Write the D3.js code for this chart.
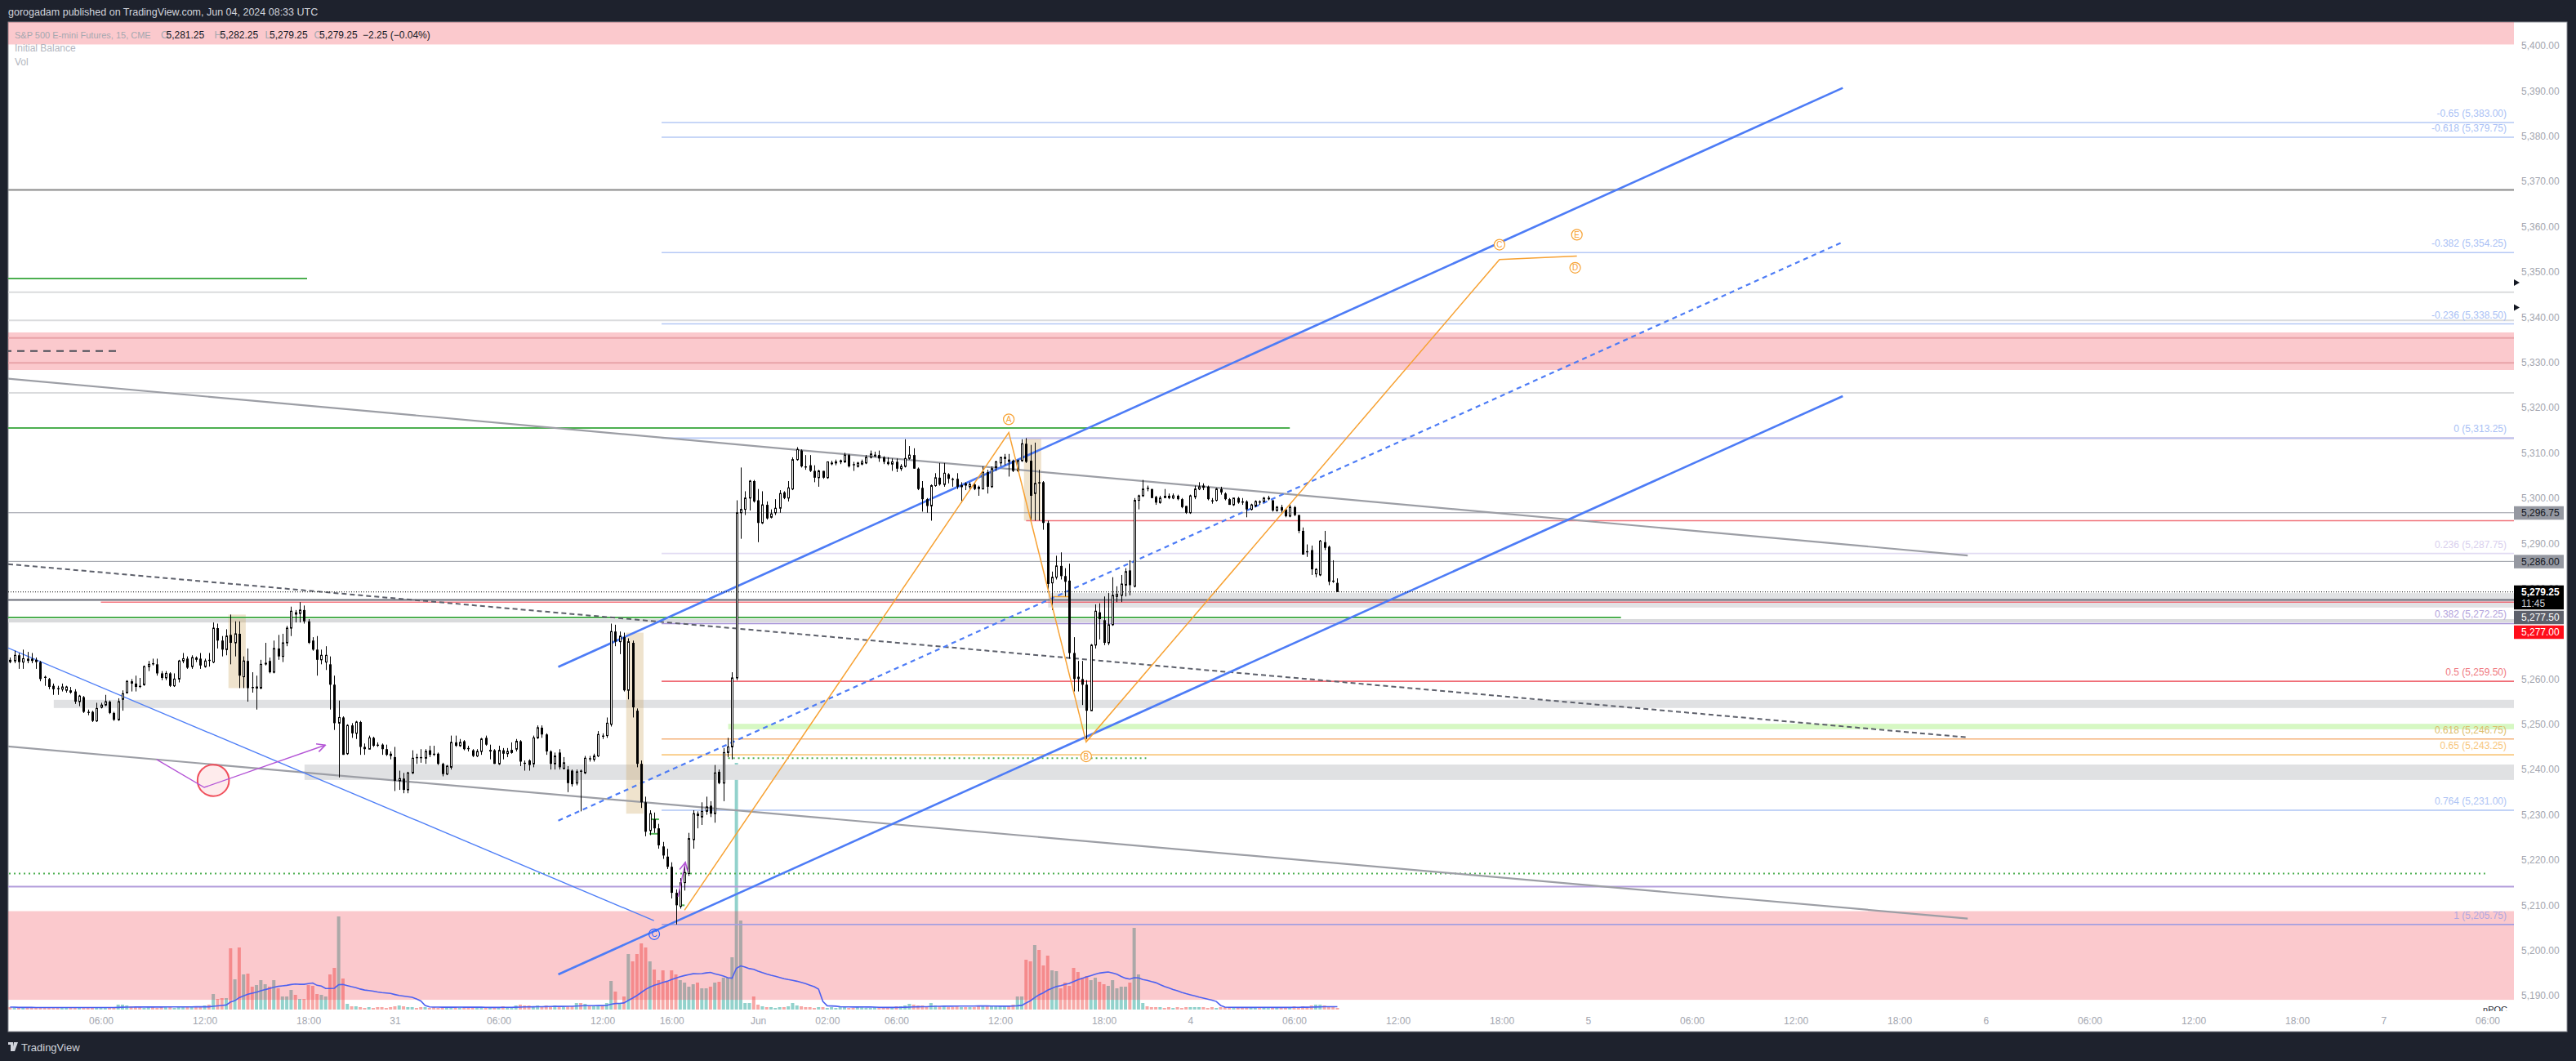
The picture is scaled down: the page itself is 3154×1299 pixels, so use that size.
<!DOCTYPE html>
<html><head><meta charset="utf-8"><title>ES 15m</title>
<script src="https://cdn.jsdelivr.net/npm/d3@7/dist/d3.min.js"></script>
<style>
html,body{margin:0;padding:0;background:#1e222d;}
svg{display:block;font-family:"Liberation Sans",Arial,sans-serif;}
</style></head><body>
<svg id="chart" width="3154" height="1299"></svg>
<script>
// ---------------- DATA ----------------
// bar index 0 = 30 May 06:00 UTC, 15-minute bars (session bars only)
const barStart = -21;
const opens = [
5264.25,5264.0,5265.25,5263.75,5264.5,5264.5,5264.25,5263.75,5260.5,5260.0,
5258.5,5258.0,5257.75,5257.5,5257.5,5257.25,5255.0,5256.0,5252.75,5252.75,
5250.75,5253.75,5254.25,5255.0,5252.5,5251.0,5255.5,5257.0,5259.5,5259.0,
5258.5,5258.75,5262.75,5263.5,5263.25,5261.25,5260.25,5261.25,5258.5,5260.0,
5264.0,5264.5,5262.75,5264.75,5264.5,5262.75,5264.25,5263.75,5271.25,5268.5,
5266.5,5269.75,5268.0,5270.0,5260.5,5264.0,5258.25,5258.0,5258.0,5263.5,
5264.0,5261.5,5266.75,5265.0,5268.0,5271.25,5274.75,5274.5,5275.25,5272.75,
5268.5,5266.5,5264.25,5263.75,5263.25,5258.75,5250.25,5251.5,5243.5,5249.75,
5248.0,5250.5,5245.0,5244.5,5247.0,5245.5,5245.5,5244.5,5243.5,5242.75,
5237.5,5238.0,5235.5,5239.25,5242.75,5242.75,5242.5,5244.25,5243.5,5243.5,
5241.25,5239.0,5240.5,5246.0,5245.25,5246.25,5244.75,5244.25,5243.0,5244.0,
5247.0,5244.25,5244.25,5241.25,5244.25,5243.5,5243.75,5244.5,5246.25,5241.5,
5242.0,5241.25,5247.0,5249.25,5247.75,5244.0,5241.25,5243.75,5240.25,5240.0,
5239.75,5237.0,5239.75,5239.25,5242.5,5242.25,5243.0,5247.5,5247.5,5250.0,
5270.5,5268.25,5269.25,5257.5,5268.0,5253.0,5241.25,5232.75,5226.5,5229.0,
5227.0,5223.0,5220.75,5218.5,5212.75,5209.75,5215.0,5217.0,5224.5,5230.25,
5229.5,5230.75,5232.0,5230.25,5239.5,5237.0,5243.75,5245.0,5260.25,5296.75,
5297.5,5300.0,5303.75,5299.5,5294.5,5298.5,5295.75,5296.75,5297.75,5301.25,
5300.0,5302.0,5308.5,5310.5,5307.0,5307.25,5306.0,5304.5,5306.0,5304.5,
5307.75,5307.75,5308.0,5308.0,5309.5,5307.5,5307.0,5307.5,5307.75,5309.0,
5309.5,5309.5,5309.0,5308.0,5307.5,5308.0,5306.5,5307.0,5308.75,5309.5,
5306.5,5302.25,5299.75,5298.25,5302.75,5304.5,5303.0,5305.25,5304.25,5304.25,
5302.5,5303.25,5302.5,5303.0,5302.5,5302.0,5305.75,5302.5,5306.75,5307.75,
5308.75,5308.5,5308.25,5306.0,5308.25,5312.0,5308.25,5301.0,5303.5,5303.5,
5294.5,5281.25,5282.5,5285.0,5282.75,5281.75,5265.75,5260.5,5260.0,5258.75,
5253.0,5267.5,5274.75,5273.0,5268.0,5272.0,5278.25,5278.5,5280.75,5284.0,
5280.5,5299.5,5300.5,5302.25,5302.0,5300.25,5299.0,5300.5,5300.5,5300.0,
5300.5,5299.75,5298.25,5296.75,5300.25,5302.0,5302.75,5302.5,5299.5,5299.5,
5302.0,5301.0,5299.75,5298.5,5300.0,5299.25,5299.25,5297.5,5298.25,5299.25,
5299.25,5300.0,5299.5,5297.25,5298.0,5297.5,5296.0,5298.0,5296.25,5292.75,
5288.25,5288.5,5283.25,5283.0,5290.25,5289.25,5281.75,5281.25];
const highs = [
5264.75,5266.25,5265.75,5266.5,5266.0,5265.75,5264.75,5264.0,5260.75,5260.25,
5259.0,5258.5,5259.0,5258.5,5258.25,5257.75,5256.5,5256.25,5253.25,5253.0,
5254.75,5254.75,5256.5,5255.25,5252.75,5255.75,5257.5,5259.75,5260.0,5260.75,
5260.25,5263.0,5264.0,5264.5,5264.5,5261.75,5261.75,5261.5,5261.25,5264.25,
5265.75,5265.0,5265.25,5265.0,5265.75,5264.5,5265.75,5272.5,5272.25,5269.5,
5271.0,5274.25,5272.75,5272.75,5265.0,5266.75,5261.5,5260.75,5264.25,5268.0,
5264.75,5268.5,5269.75,5270.0,5271.75,5276.0,5275.25,5277.0,5276.25,5273.25,
5269.25,5269.5,5266.5,5267.25,5265.0,5260.75,5255.25,5251.75,5250.0,5250.25,
5250.75,5250.75,5245.75,5247.5,5247.25,5246.0,5245.75,5245.5,5244.0,5245.0,
5239.75,5239.25,5239.5,5244.25,5243.5,5244.5,5244.5,5245.25,5245.25,5243.75,
5241.5,5241.0,5247.5,5247.5,5246.75,5246.5,5245.25,5244.5,5244.5,5247.0,
5247.5,5245.5,5244.5,5245.25,5244.75,5244.75,5246.0,5246.75,5246.5,5242.0,
5242.25,5247.5,5249.75,5249.75,5248.0,5244.25,5243.75,5244.5,5242.75,5240.75,
5240.0,5240.0,5240.0,5243.0,5243.0,5243.5,5248.5,5248.0,5251.5,5272.25,
5272.0,5270.5,5270.25,5269.0,5268.5,5253.5,5242.0,5234.0,5231.0,5230.5,
5228.0,5224.0,5222.5,5219.5,5213.5,5216.0,5219.5,5226.0,5231.0,5230.75,
5232.75,5234.0,5233.0,5241.0,5240.0,5244.75,5247.0,5261.5,5299.5,5306.75,
5301.5,5304.0,5304.0,5302.0,5301.5,5299.25,5297.5,5299.75,5301.75,5301.5,
5303.75,5309.0,5311.25,5310.75,5309.5,5309.5,5307.25,5306.25,5306.0,5308.0,
5308.25,5308.5,5308.5,5310.0,5309.75,5308.0,5308.0,5308.5,5309.5,5310.5,
5310.25,5310.5,5309.25,5309.0,5308.75,5308.75,5307.5,5313.0,5311.5,5311.0,
5306.75,5303.75,5300.0,5303.0,5305.5,5307.75,5307.75,5305.5,5304.5,5305.5,
5303.5,5303.5,5303.5,5303.25,5302.75,5307.0,5306.25,5307.0,5308.25,5309.0,
5309.75,5309.75,5308.5,5308.5,5313.0,5313.25,5311.75,5312.25,5306.25,5303.75,
5295.0,5283.75,5287.25,5288.0,5284.5,5285.5,5269.25,5264.0,5264.0,5259.75,
5267.75,5276.5,5276.75,5278.25,5279.0,5282.5,5280.5,5283.0,5284.5,5286.25,
5300.0,5300.75,5304.0,5302.75,5302.0,5300.5,5300.5,5302.0,5301.0,5301.0,
5300.75,5300.0,5298.25,5300.75,5302.75,5303.5,5303.25,5302.75,5300.0,5302.25,
5302.5,5301.25,5300.0,5300.0,5300.25,5300.0,5299.5,5298.75,5299.5,5299.5,
5300.25,5300.5,5299.5,5298.25,5298.5,5297.5,5298.5,5298.25,5296.25,5293.5,
5289.75,5289.5,5284.5,5290.75,5292.75,5289.5,5286.25,5282.25];
const lows = [
5263.5,5263.5,5262.25,5262.25,5263.5,5263.5,5262.25,5259.5,5258.5,5257.75,
5256.5,5256.5,5257.25,5257.0,5256.75,5254.5,5254.0,5252.5,5252.0,5250.5,
5250.5,5253.5,5254.0,5252.25,5250.75,5250.75,5253.0,5256.75,5257.25,5257.25,
5258.0,5258.5,5261.75,5263.0,5260.75,5259.75,5259.75,5258.25,5258.25,5259.25,
5263.5,5262.25,5262.25,5263.75,5262.25,5262.5,5262.75,5263.5,5266.75,5265.0,
5265.25,5263.25,5265.0,5258.0,5258.0,5255.0,5257.0,5253.25,5257.75,5263.0,
5261.25,5261.25,5264.25,5263.75,5267.25,5269.5,5272.5,5272.5,5272.25,5267.75,
5266.25,5260.75,5263.25,5262.0,5253.25,5248.75,5238.25,5243.25,5243.25,5247.0,
5246.75,5243.25,5243.25,5244.5,5245.0,5245.0,5243.25,5243.0,5242.25,5235.25,
5235.5,5234.75,5234.75,5239.0,5241.25,5241.5,5241.25,5242.75,5243.0,5241.0,
5238.5,5238.75,5240.0,5245.0,5245.0,5244.25,5244.0,5242.75,5242.75,5243.25,
5245.25,5242.25,5241.25,5241.0,5242.25,5242.75,5243.5,5244.0,5240.75,5239.75,
5239.75,5240.5,5246.75,5247.0,5243.25,5240.0,5240.0,5240.0,5240.0,5235.0,
5236.25,5236.5,5230.75,5239.0,5241.75,5241.75,5242.75,5246.75,5247.0,5249.5,
5267.25,5265.5,5257.25,5255.5,5251.5,5240.5,5231.5,5225.25,5225.5,5226.0,
5222.5,5220.25,5218.0,5211.5,5205.75,5209.25,5213.25,5216.5,5222.5,5227.0,
5227.75,5230.0,5229.5,5228.25,5236.75,5233.0,5242.75,5242.25,5259.75,5291.0,
5296.25,5297.25,5299.0,5290.25,5294.25,5295.25,5295.5,5296.25,5296.75,5299.75,
5299.25,5301.75,5308.25,5306.75,5306.25,5305.75,5303.5,5302.5,5304.25,5304.25,
5307.25,5307.25,5307.5,5307.75,5306.75,5306.0,5306.75,5307.25,5307.5,5308.75,
5309.0,5308.0,5307.5,5307.25,5306.0,5305.75,5306.0,5306.75,5308.5,5306.5,
5301.75,5297.0,5296.75,5295.0,5302.5,5302.75,5302.5,5303.25,5302.5,5302.0,
5299.0,5301.75,5301.75,5301.75,5300.5,5302.0,5301.0,5302.25,5306.0,5307.0,
5307.25,5304.75,5305.75,5305.75,5308.0,5307.75,5295.0,5295.0,5295.0,5293.0,
5279.75,5275.25,5282.0,5282.0,5278.25,5264.5,5257.25,5257.25,5254.25,5246.75,
5253.0,5266.75,5268.75,5267.5,5267.5,5271.75,5277.0,5277.0,5278.25,5278.5,
5280.25,5297.5,5300.25,5301.5,5300.0,5298.5,5298.75,5300.0,5299.75,5299.75,
5299.5,5297.75,5296.5,5296.5,5299.75,5301.75,5301.75,5299.5,5298.75,5299.25,
5300.75,5299.5,5298.5,5298.25,5298.75,5298.5,5295.75,5297.25,5298.0,5298.5,
5299.0,5299.5,5297.0,5297.0,5296.75,5295.75,5295.75,5296.0,5292.25,5287.5,
5287.0,5283.0,5282.5,5282.75,5288.5,5280.75,5281.25,5279.25];
const closes = [
5263.75,5265.25,5263.75,5264.5,5264.0,5264.0,5263.75,5260.0,5260.25,5258.25,
5257.75,5257.75,5258.25,5258.25,5257.0,5255.0,5256.25,5252.75,5252.5,5250.75,
5253.5,5254.25,5255.0,5252.5,5251.0,5255.0,5256.75,5259.5,5259.0,5258.25,
5258.25,5262.75,5263.25,5263.25,5261.25,5260.25,5261.25,5258.5,5260.0,5264.0,
5264.5,5262.5,5264.75,5264.25,5263.0,5264.0,5264.0,5271.25,5268.5,5266.5,
5269.5,5268.0,5270.0,5260.75,5264.0,5258.0,5258.0,5258.25,5263.25,5263.5,
5261.5,5266.75,5265.0,5268.0,5271.25,5275.0,5274.25,5275.25,5272.75,5268.0,
5266.5,5264.25,5265.25,5265.25,5258.75,5250.25,5251.5,5243.25,5249.75,5248.0,
5250.5,5245.0,5244.5,5247.0,5245.25,5245.25,5244.5,5243.25,5243.0,5237.5,
5238.0,5235.5,5239.25,5242.5,5242.5,5242.5,5244.0,5243.25,5243.25,5241.25,
5239.0,5240.75,5246.0,5245.25,5246.0,5244.5,5244.5,5243.0,5244.0,5246.75,
5245.5,5244.25,5241.25,5244.25,5243.5,5244.0,5244.25,5246.25,5241.75,5241.25,
5241.0,5247.0,5249.25,5247.75,5244.0,5241.25,5243.0,5240.5,5241.5,5237.0,
5236.75,5239.5,5239.5,5242.5,5242.25,5243.0,5247.75,5247.25,5250.25,5270.5,
5268.25,5269.5,5257.5,5268.25,5253.75,5241.25,5232.75,5226.25,5230.25,5227.0,
5223.25,5221.0,5218.5,5212.75,5210.0,5215.0,5217.25,5224.75,5230.25,5229.75,
5230.75,5231.75,5230.25,5239.25,5237.0,5243.75,5245.0,5260.25,5296.75,5297.5,
5300.0,5303.75,5299.25,5294.5,5298.5,5295.5,5296.5,5297.75,5301.0,5300.0,
5302.25,5308.5,5310.75,5307.0,5306.75,5306.0,5304.5,5306.0,5304.5,5308.0,
5307.75,5308.0,5308.25,5309.5,5307.0,5307.25,5307.75,5308.0,5309.0,5309.75,
5309.5,5308.75,5308.0,5307.5,5308.0,5306.5,5307.0,5308.75,5309.5,5306.5,
5302.0,5299.75,5298.25,5302.75,5304.5,5303.0,5305.5,5304.25,5304.0,5302.5,
5302.75,5302.75,5303.0,5302.0,5302.0,5305.75,5302.5,5306.5,5308.0,5309.0,
5309.0,5308.0,5306.0,5308.25,5312.0,5308.0,5300.5,5303.25,5303.25,5294.5,
5281.0,5282.5,5285.0,5282.75,5281.5,5265.75,5260.0,5260.0,5258.75,5253.0,
5267.5,5275.0,5273.25,5268.0,5272.0,5278.5,5278.75,5281.0,5283.75,5280.75,
5299.5,5300.5,5302.0,5302.0,5300.0,5299.0,5300.0,5300.0,5300.0,5300.5,
5299.75,5298.0,5296.75,5300.5,5302.0,5302.5,5302.25,5299.75,5299.25,5302.0,
5301.25,5299.75,5298.5,5300.0,5299.0,5299.0,5297.5,5298.5,5299.25,5299.0,
5300.0,5300.0,5297.25,5298.0,5297.25,5296.0,5298.0,5296.25,5292.75,5287.5,
5288.0,5284.25,5284.25,5290.5,5289.0,5281.5,5281.5,5279.25];
const volumes = [
3,3,2,3,2,3,2,2,3,2, 3,2,2,3,3,2,2,3,2,3, 2,3,3,2,3,6,6,5,4,3,
3,2,3,3,2,3,3,3,2,3, 3,3,4,3,4,5,6,19,13,14, 14,75,37,76,43,44,28,30,36,31,
28,36,26,16,16,24,18,13,13,30, 29,19,18,16,43,51,114,38,7,4, 4,3,2,3,2,3,3,2,3,4,
5,4,3,3,2,3,3,2,3,2, 3,3,2,3,3,2,3,2,3,3, 2,3,3,3,4,3,3,5,6,5,
5,4,5,4,5,4,5,3,3,4, 4,8,8,7,4,4,5,5,8,35, 22,8,16,68,59,68,81,76,59,49,
36,48,34,48,43,36,33,28,31,33, 26,26,28,33,34,39,39,64,302,109, 8,8,16,6,4,3,3,2,3,3,
4,8,5,4,3,3,2,3,3,2, 3,2,3,3,2,2,3,3,2,2, 3,3,2,3,3,4,4,5,7,6,
5,5,4,8,5,4,4,3,3,4, 3,3,3,3,4,4,4,4,5,5, 4,5,6,16,16,61,59,79,73,54,
66,48,47,26,33,29,51,46,39,41, 36,39,34,31,29,36,26,28,28,33, 100,43,8,4,3,3,3,2,3,2,
3,2,3,3,3,3,3,2,3,2, 3,3,2,3,2,3,3,2,3,3, 2,3,2,3,3,3,3,4,3,4,
3,5,6,6,5,4,3,2];

const timeTickIdx = [0,24,48,68,92,116,132,152,168,184,208,232,252,276,300,324,344,368,392,416,436,460,484,508,528,552];
const timeTickLabels = ["06:00","12:00","18:00","31","06:00","12:00","16:00","Jun","02:00","06:00","12:00","18:00","4","06:00","12:00","18:00","5","06:00","12:00","18:00","6","06:00","12:00","18:00","7","06:00"];
const priceTicks = [5190,5200,5210,5220,5230,5240,5250,5260,5270,5280,5290,5300,5310,5320,5330,5340,5350,5360,5370,5380,5390,5400];

// Fibonacci retracement
const fibRatios = [-0.65,-0.618,-0.382,-0.236,0,0.236,0.382,0.5,0.618,0.65,0.764,1];
const fibPrices = [5383.00,5379.75,5354.25,5338.50,5313.25,5287.75,5272.25,5259.50,5246.75,5243.25,5231.00,5205.75];
const fibStartIdx = 129.7;

// zones (price ranges)
const zoneTop = [5420, 5336.6, 5208.7];
const zoneBottom = [5400.25, 5328.3, 5189.1];

// shaded bands
const bandTop = [5255.4, 5241.1, 5273.25, 5279.0, 5250.1];
const bandBottom = [5253.6, 5237.7, 5272.5, 5275.8, 5248.9];
const bandFrom = [-10.9, 47.1, -30, 219.1, 145.1];
const bandTo = [600, 600, 600, 600, 600];

// horizontal levels
const levelPrices = [5368.1, 5345.5, 5339.25, 5323.25, 5335.4, 5329.9, 5348.5, 5315.5, 5313.25, 5295.0, 5296.75, 5286.0, 5277.5, 5277.0, 5273.6, 5242.5, 5217.0, 5214.1, 5332.5, 5278.2, 5229.0, 5225.8, 5210.0];
const levelFrom = [-30,-30,-30,-30,-30,-30,-30,-30,214,214,-30,-30,-30,0,-30,145.1,-30,-30,-30,219.9,126.9,126.9,133.8];
const levelTo = [600,600,600,600,600,600,47.7,275,600,600,600,600,600,600,351.6,241.8,551.5,600,4.1,224,129.1,129.0,135.0];

// initial balance boxes
const ibStart = [30, 122, 214];
const ibEnd = [34, 126, 218];
const ibHigh = [5274.25, 5270.25, 5313.25];
const ibLow = [5258.0, 5230.25, 5295.0];

// drawings [idx, price]
const trendGreyUpper = [[-21.44, 5326.4], [431.8, 5287.3]];
const trendGreyLower = [[-21.44, 5245.1], [431.8, 5207.06]];
const trendDashed = [[-21.44, 5285.4], [431.8, 5247.1]];
const trendThinBlue = [[-21.44, 5266.87], [127.93, 5206.6]];
const channelUpper = [[105.8, 5262.68], [402.9, 5390.64]];
const channelLower = [[105.8, 5194.72], [402.9, 5322.53]];
const channelMid = [[105.8, 5228.7], [402.9, 5356.6]];
const wavePath = [[135.0, 5208.9], [210.0, 5314.5], [227.9, 5246.1], [323.5, 5352.7], [341.4, 5353.5]];
const waveLabels = ["A", "B", "C", "D", "E"];
const waveLabelIdx = [210.0, 227.9, 323.5, 341.0, 341.4];
const waveLabelPrice = [5317.4, 5242.9, 5356.0, 5350.9, 5358.2];
const blueLabelPt = [128.0, 5203.6];
const purplePath = [[12.9, 5242.2], [23.9, 5236.05], [51.9, 5245.4]];
const purpleArrow2 = [[133.5, 5211.9], [135.2, 5219.5]];
const circleCenter = [26.0, 5237.6];

const lastPrice = 5279.25;
const markerPrices = [5347.6, 5342.1];
const axisBoxes = [
  {p:5296.75, t:"5,296.75", fill:"#9598a1", col:"#131722"},
  {p:5286.00, t:"5,286.00", fill:"#9598a1", col:"#131722"},
  {p:5279.25, t:"5,279.25", t2:"11:45", fill:"#000000", col:"#ffffff"},
  {p:5277.50, t:"5,277.50", fill:"#5d606b", col:"#ffffff"},
  {p:5277.00, t:"5,277.00", fill:"#ff0d1a", col:"#ffffff"}
];
const legendParts = ["S&P 500 E-mini Futures, 15, CME", "O", "5,281.25", "H", "5,282.25", "L", "5,279.25", "C", "5,279.25", "\u22122.25 (\u22120.04%)"];

// ---------------- DRAW ----------------
const svg = d3.select("#chart");
const P = {l:10, r:3078, t:27, b:1238, axR:3143, fb:1263};
const x = d3.scaleLinear().domain([0, 276]).range([123.5, 1584.5]);
const y = d3.scaleLinear().domain([5231, 5383]).range([992, 150]);
const yv = d3.scaleLinear().domain([0, 393]).range([1236, 843]);
const cx = i => Math.max(P.l - 5, Math.min(P.r + 5, x(i)));

const bars = opens.map((o, k) => ({i: barStart + k, o, h: highs[k], l: lows[k], c: closes[k], v: volumes[k]}));

svg.append("rect").attr("x", 0).attr("y", 0).attr("width", 3154).attr("height", 1299).attr("fill", "#1e222d");
svg.append("rect").attr("x", P.l).attr("y", P.t).attr("width", P.axR - P.l).attr("height", P.fb - P.t)
  .attr("fill", "#ffffff").attr("stroke", "#8a8d96").attr("stroke-width", 1);

const defs = svg.append("defs");
defs.append("clipPath").attr("id", "pane").append("rect").attr("x", P.l).attr("y", P.t).attr("width", P.r - P.l).attr("height", P.b - P.t);
defs.append("marker").attr("id", "arrP").attr("viewBox", "0 0 10 10").attr("refX", 9).attr("refY", 5)
  .attr("markerWidth", 9).attr("markerHeight", 9).attr("orient", "auto-start-reverse")
  .append("path").attr("d", "M1,1 L9,5 L1,9").attr("fill", "none").attr("stroke", "#b455d6").attr("stroke-width", 1.3);

const g = svg.append("g").attr("clip-path", "url(#pane)");

// volume
g.append("g").selectAll("rect").data(bars).join("rect")
  .attr("x", d => x(d.i) - 2).attr("width", 4)
  .attr("y", d => yv(d.v)).attr("height", d => yv(0) - yv(d.v))
  .attr("fill", d => d.c >= d.o ? "rgba(38,166,154,0.5)" : "rgba(239,83,80,0.5)");

// zones
g.append("g").selectAll("rect").data(zoneTop).join("rect")
  .attr("x", P.l).attr("width", P.r - P.l)
  .attr("y", d => y(d)).attr("height", (d, k) => y(zoneBottom[k]) - y(d))
  .attr("fill", "rgba(242,54,69,0.27)");

// bands
const bandFill = ["#e0e1e3", "#e0e1e3", "#d9dadc", "#e1e2e4", "#d6f8c3"];
g.append("g").selectAll("rect").data(bandTop).join("rect")
  .attr("x", (d, k) => cx(bandFrom[k])).attr("width", (d, k) => cx(bandTo[k]) - cx(bandFrom[k]))
  .attr("y", d => y(d)).attr("height", (d, k) => y(bandBottom[k]) - y(d))
  .attr("fill", (d, k) => bandFill[k]);

// IB boxes
g.append("g").selectAll("rect").data(ibStart).join("rect")
  .attr("x", d => x(d) - 2.6).attr("width", (d, k) => x(ibEnd[k]) - x(d))
  .attr("y", (d, k) => y(ibHigh[k])).attr("height", (d, k) => y(ibLow[k]) - y(ibHigh[k]))
  .attr("fill", "rgba(205,168,98,0.32)");

// level lines
const levelStyle = [
  ["#8a8a8a",2,null],["#dadbdd",2,null],["#dadbdd",2,null],["#dadbdd",2,null],["#e8a3a8",2,null],["#e8a3a8",2,null],
  ["#4caf50",2,null],["#4caf50",2,null],["#c9507f",1.5,null],["#f0727a",1.5,null],["#9598a1",1,null],["#9598a1",1,null],
  ["#6a6d78",2,null],["#f23645",1,null],["#4caf50",2,null],["#4caf50",2,"2,4"],["#4caf50",2,"2,4"],["#b39ddb",2,null],
  ["#4a4d57",2,"9,7"],["#f7a532",1.5,null],["#4caf50",2,null],["#4caf50",2,null],["#4caf50",2,null]];
g.append("g").selectAll("line").data(levelPrices).join("line")
  .attr("x1", (d, k) => cx(levelFrom[k])).attr("x2", (d, k) => cx(levelTo[k]))
  .attr("y1", d => y(d)).attr("y2", d => y(d))
  .attr("stroke", (d, k) => levelStyle[k][0]).attr("stroke-width", (d, k) => levelStyle[k][1])
  .attr("stroke-dasharray", (d, k) => levelStyle[k][2]);

// fib
const fibLine = ["#b5c8f5","#b5c8f5","#b5c8f5","#b5c8f5","#b5c8f5","#e2dbf3","#a692d8","#ef6b75","#f5b27a","#f9c87f","#aec4f5","#a49fe0"];
const fibText = ["#a9bff5","#a9bff5","#a9bff5","#a9bff5","#a9bff5","#d9d0ee","#b3a3dc","#f07880","#dcbd6c","#f8c67c","#aec4f5","#b0a7e0"];
const fg = g.append("g");
fg.selectAll("line").data(fibPrices).join("line")
  .attr("x1", x(fibStartIdx)).attr("x2", P.r).attr("y1", d => y(d)).attr("y2", d => y(d))
  .attr("stroke", (d, k) => fibLine[k]).attr("stroke-width", 1.6);
fg.selectAll("text").data(fibPrices).join("text")
  .attr("x", P.r - 9).attr("y", d => y(d) - 7).attr("text-anchor", "end").attr("font-size", 12)
  .attr("fill", (d, k) => fibText[k])
  .text((d, k) => `${fibRatios[k]} (${d3.format(",.2f")(d)})`);

// volume MA (20)
const ma = bars.map((b, k) => {
  const s = bars.slice(Math.max(0, k - 19), k + 1);
  return {i: b.i, v: d3.mean(s, d => d.v)};
});
g.append("path").datum(ma).attr("fill", "none").attr("stroke", "#4d61f0").attr("stroke-width", 1.6)
  .attr("d", d3.line().x(d => x(d.i)).y(d => yv(d.v)));

// trend lines
const line = d3.line().x(d => x(d[0])).y(d => y(d[1]));
const tl = g.append("g").attr("fill", "none");
tl.append("path").datum(trendGreyUpper).attr("d", line).attr("stroke", "#9c9ea5").attr("stroke-width", 2.2);
tl.append("path").datum(trendGreyLower).attr("d", line).attr("stroke", "#9c9ea5").attr("stroke-width", 2.2);
tl.append("path").datum(trendDashed).attr("d", line).attr("stroke", "#5d606b").attr("stroke-width", 2).attr("stroke-dasharray", "6,4");
tl.append("path").datum(trendThinBlue).attr("d", line).attr("stroke", "#4f7ff7").attr("stroke-width", 1.4);
tl.append("path").datum(channelUpper).attr("d", line).attr("stroke", "#4d7cf6").attr("stroke-width", 2.6);
tl.append("path").datum(channelLower).attr("d", line).attr("stroke", "#4d7cf6").attr("stroke-width", 2.6);
tl.append("path").datum(channelMid).attr("d", line).attr("stroke", "#4d7cf6").attr("stroke-width", 2.2).attr("stroke-dasharray", "6,5");

// candles
const cg = g.append("g");
cg.selectAll("line").data(bars).join("line")
  .attr("x1", d => Math.round(x(d.i)) + 0.5).attr("x2", d => Math.round(x(d.i)) + 0.5)
  .attr("y1", d => y(Math.max(d.h, d.o, d.c))).attr("y2", d => y(Math.min(d.l, d.o, d.c)))
  .attr("stroke", "#000").attr("stroke-width", 1);
cg.selectAll("rect").data(bars).join("rect")
  .attr("x", d => d.c >= d.o ? Math.round(x(d.i)) - 0.5 : Math.round(x(d.i)) - 1)
  .attr("width", d => d.c >= d.o ? 2 : 3)
  .attr("y", d => y(Math.max(d.o, d.c)))
  .attr("height", d => Math.max(1, y(Math.min(d.o, d.c)) - y(Math.max(d.o, d.c))))
  .attr("fill", d => d.c >= d.o ? "#fff" : "#000")
  .attr("stroke", d => d.c >= d.o ? "#000" : "none").attr("stroke-width", 1);

// wave pattern
const ann = g.append("g");
ann.append("path").datum(wavePath).attr("d", line).attr("fill", "none").attr("stroke", "#f7a234").attr("stroke-width", 1.5);
const wl = ann.selectAll("g.wl").data(waveLabels).join("g").attr("class", "wl")
  .attr("transform", (d, k) => `translate(${x(waveLabelIdx[k])},${y(waveLabelPrice[k])})`);
wl.append("circle").attr("r", 6.5).attr("fill", "#fff").attr("stroke", "#f7a234").attr("stroke-width", 1.2);
wl.append("text").attr("text-anchor", "middle").attr("dy", "0.36em").attr("font-size", 10).attr("fill", "#f7a234").text(d => d);
const bl = ann.append("g").attr("transform", `translate(${x(blueLabelPt[0])},${y(blueLabelPt[1])})`);
bl.append("circle").attr("r", 6.5).attr("fill", "none").attr("stroke", "#2962ff").attr("stroke-width", 1.2);
bl.append("text").attr("text-anchor", "middle").attr("dy", "0.36em").attr("font-size", 10).attr("fill", "#2962ff").text("C");

// pink circle + purple arrows
ann.append("circle").attr("cx", x(circleCenter[0])).attr("cy", y(circleCenter[1])).attr("r", 19.3)
  .attr("fill", "rgba(242,54,69,0.1)").attr("stroke", "#f0505c").attr("stroke-width", 2);
ann.append("path").datum(purplePath).attr("d", line).attr("fill", "none").attr("stroke", "#b455d6").attr("stroke-width", 1.4).attr("marker-end", "url(#arrP)");
ann.append("path").datum(purpleArrow2).attr("d", line).attr("fill", "none").attr("stroke", "#b455d6").attr("stroke-width", 1.4).attr("marker-end", "url(#arrP)");

// last price dotted line
g.append("line").attr("x1", P.l).attr("x2", P.r).attr("y1", y(lastPrice)).attr("y2", y(lastPrice))
  .attr("stroke", "#000").attr("stroke-width", 1).attr("stroke-dasharray", "1,2");

// nPOC text (cut by the pane bottom)
g.append("text").attr("x", P.r - 8).attr("y", 1240).attr("text-anchor", "end").attr("font-size", 11).attr("fill", "#2a2e39").text("nPOC");

// price axis
const ya = svg.append("g").attr("transform", `translate(${P.r + 9},0)`)
  .call(d3.axisRight(y).tickValues(priceTicks).tickFormat(d3.format(",.2f")).tickSize(0).tickPadding(0));
ya.select(".domain").remove();
ya.selectAll("text").attr("fill", "#a3a6af").attr("font-size", 12).attr("font-family", "Liberation Sans, Arial, sans-serif");

// axis boxes (stacked to avoid overlap)
let lastBottom = -1e9;
axisBoxes.forEach(b => {
  const hgt = b.t2 ? 29.5 : 16.5;
  let top = y(b.p) - 8;
  if (top < lastBottom + 1.5) top = lastBottom + 1.5;
  lastBottom = top + hgt;
  svg.append("rect").attr("x", P.r).attr("y", top).attr("width", 61).attr("height", hgt).attr("fill", b.fill);
  svg.append("text").attr("x", P.r + 9).attr("y", top + 12.5).attr("font-size", 12).attr("fill", b.col)
    .attr("font-weight", b.t2 ? "bold" : "normal").text(b.t);
  if (b.t2) svg.append("text").attr("x", P.r + 9).attr("y", top + 26).attr("font-size", 12).attr("fill", "#d1d4dc").text(b.t2);
});
svg.append("g").selectAll("path").data(markerPrices).join("path")
  .attr("d", d => `M${P.r},${y(d) - 4}L${P.r + 7},${y(d)}L${P.r},${y(d) + 4}Z`).attr("fill", "#131722");

// time axis
const xa = svg.append("g").attr("transform", `translate(0,${P.b})`)
  .call(d3.axisBottom(x).tickValues(timeTickIdx).tickFormat((d, k) => timeTickLabels[k]).tickSize(0).tickPadding(7));
xa.select(".domain").remove();
xa.selectAll("text").attr("fill", "#a3a6af").attr("font-size", 12).attr("font-family", "Liberation Sans, Arial, sans-serif");

// header
svg.append("text").attr("x", 10).attr("y", 19).attr("font-size", 12.5).attr("fill", "#d1d4dc")
  .text("gorogadam published on TradingView.com, Jun 04, 2024 08:33 UTC");
const legendX = [18, 197, 203.5, 262.5, 269.5, 324.5, 330, 384.5, 391, 444];
const legendSize = [11, 12, 12, 12, 12, 12, 12, 12, 12, 12];
const legendCol = ["#a5a8b0", "#a5a8b0", "#131722", "#a5a8b0", "#131722", "#a5a8b0", "#131722", "#a5a8b0", "#131722", "#131722"];
svg.append("g").selectAll("text").data(legendParts).join("text")
  .attr("x", (d, k) => legendX[k]).attr("y", 47).attr("font-size", (d, k) => legendSize[k]).attr("fill", (d, k) => legendCol[k]).text(d => d);
svg.append("text").attr("x", 18).attr("y", 63).attr("font-size", 12).attr("fill", "#b2b5be").text("Initial Balance");
svg.append("text").attr("x", 18).attr("y", 80).attr("font-size", 12).attr("fill", "#b2b5be").text("Vol");

// footer logo
const ft = svg.append("g").attr("transform", "translate(10,1276)");
ft.append("rect").attr("x", 0).attr("y", 0).attr("width", 6).attr("height", 3).attr("fill", "#d1d4dc");
ft.append("rect").attr("x", 3).attr("y", 0).attr("width", 3).attr("height", 11).attr("fill", "#d1d4dc");
ft.append("path").attr("d", "M7,0 L12,0 L8,11 L5,11 Z").attr("fill", "#d1d4dc");
ft.append("text").attr("x", 16).attr("y", 10.5).attr("font-size", 13).attr("fill", "#d1d4dc").text("TradingView");
</script>
</body></html>
